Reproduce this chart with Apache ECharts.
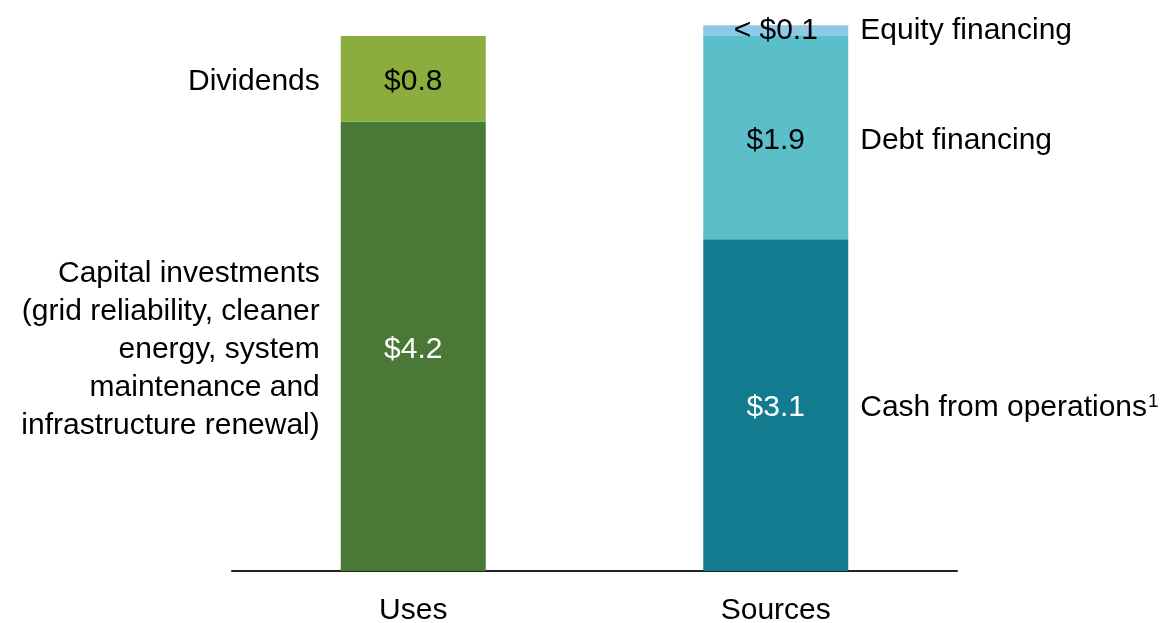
<!DOCTYPE html>
<html lang="en">
<head>
  <meta charset="UTF-8">
  <title>Uses and sources</title>
  <script src="https://cdn.jsdelivr.net/npm/echarts@6/dist/echarts.min.js"></script>
  <style>
    html, body, #main {
      margin: 0;
      padding: 0;
      width: 100%;
      height: 100%;
      background: #fff;
    }
  </style>
</head>
<body>
  <div id="main"></div>
  <script>
    const chart = echarts.init(document.getElementById('main'));

    // categories on the x axis
    const categories = ['Uses', 'Sources'];

    // segment values (billions), bottom to top
    const capitalInvestments = [4.2, null];
    const dividends = [0.8, null];
    const cashFromOperations = [null, 3.1];
    const debtFinancing = [null, 1.9];
    const equityFinancing = [null, 0.1];

    // text shown inside the bars
    const valueLabels = {
      capital: '$4.2',
      dividends: '$0.8',
      cash: '$3.1',
      debt: '$1.9',
      equity: '< $0.1'
    };

    // text shown beside the bars
    const sideLabels = {
      capital: 'Capital investments\n(grid reliability, cleaner\nenergy, system\nmaintenance and\ninfrastructure renewal)',
      dividends: 'Dividends',
      cash: '{t|Cash from operations}{sup|1}',
      debt: 'Debt financing',
      equity: 'Equity financing'
    };

    const FONT = 'Liberation Sans';
    const SIZE = 30;

    // one stacked bar segment with its value label
    function segment(key, data, color, textColor) {
      return {
        name: key,
        type: 'bar',
        stack: 'main',
        xAxisIndex: 0,
        barWidth: 145,
        data: data,
        itemStyle: { color: color },
        label: {
          show: true,
          position: 'inside',
          offset: [0, key === 'equity' ? 0 : 3],
          formatter: valueLabels[key],
          color: textColor,
          fontFamily: FONT,
          fontSize: SIZE
        },
        emphasis: { disabled: true },
        silent: true
      };
    }

    // same segment on a hidden twin axis, transparent, carrying the side text
    function sideText(key, data, side) {
      return {
        name: key + '-side',
        type: 'bar',
        stack: 'side',
        xAxisIndex: 1,
        barWidth: 145,
        data: data,
        itemStyle: { color: 'rgba(0,0,0,0)' },
        label: {
          show: true,
          position: side,
          distance: side === 'left' ? 21 : 12,
          offset: [0, key === 'equity' ? 0 : 3],
          formatter: sideLabels[key],
          color: '#000',
          fontFamily: FONT,
          fontSize: SIZE,
          lineHeight: 38,
          align: side === 'left' ? 'right' : 'left',
          rich: {
            t: { fontFamily: FONT, fontSize: SIZE, color: '#000' },
            sup: { fontFamily: FONT, fontSize: 19, color: '#000', padding: [0, 0, 13, 1] }
          }
        },
        emphasis: { disabled: true },
        silent: true
      };
    }

    const yMax = 5.3;
    const baseY = 571;
    const pxPerUnit = 107;

    chart.setOption({
      animation: false,
      grid: {
        left: 232,
        right: 209,
        top: baseY - yMax * pxPerUnit,
        bottom: 623 - baseY,
        containLabel: false,
        outerBoundsMode: 'none'
      },
      xAxis: [
        {
          type: 'category',
          data: categories,
          axisTick: { show: false },
          axisLine: { lineStyle: { color: '#222', width: 2 } },
          axisLabel: {
            color: '#000',
            fontFamily: FONT,
            fontSize: SIZE,
            margin: 25
          }
        },
        {
          type: 'category',
          data: categories,
          show: false
        }
      ],
      yAxis: {
        type: 'value',
        min: 0,
        max: yMax,
        show: false,
        splitLine: { show: false }
      },
      series: [
        segment('capital', capitalInvestments, '#4a7836', '#fff'),
        segment('dividends', dividends, '#8aad3d', '#000'),
        segment('cash', cashFromOperations, '#137b90', '#fff'),
        segment('debt', debtFinancing, '#5bbfc9', '#000'),
        segment('equity', equityFinancing, '#8ec9e8', '#000'),
        sideText('capital', capitalInvestments, 'left'),
        sideText('dividends', dividends, 'left'),
        sideText('cash', cashFromOperations, 'right'),
        sideText('debt', debtFinancing, 'right'),
        sideText('equity', equityFinancing, 'right')
      ]
    });
  </script>
</body>
</html>
